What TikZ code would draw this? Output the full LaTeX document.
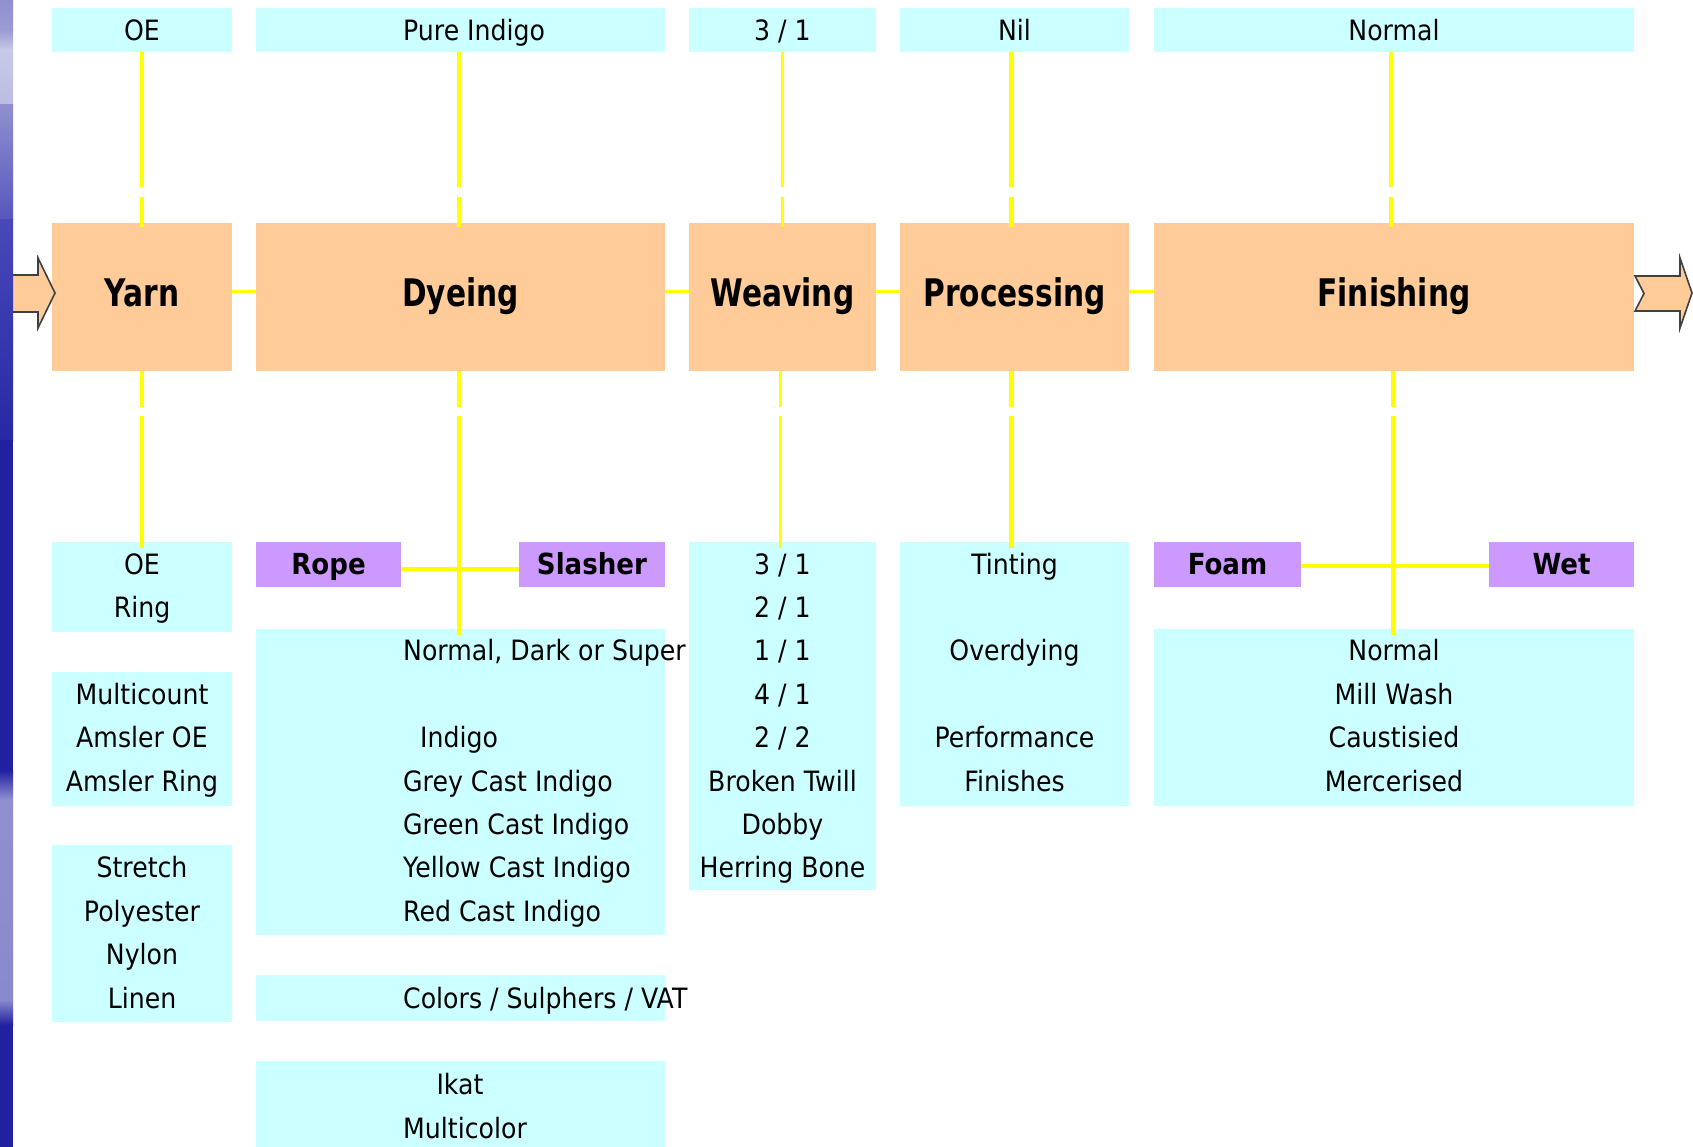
\documentclass[tikz,border=0pt]{standalone}
\usepackage{fontspec}
\setmainfont{DejaVu Sans}[FakeStretch=0.9]
\newfontfamily\mainbold{DejaVu Sans}[FakeStretch=0.78]
\definecolor{cyanbox}{HTML}{CCFFFF}
\definecolor{peach}{HTML}{FFCC99}
\definecolor{lilac}{HTML}{CC99FF}
\definecolor{ylw}{HTML}{FFFF00}
\definecolor{arrowgray}{HTML}{404040}
\definecolor{bdark}{HTML}{2020A0}
\definecolor{bmid}{HTML}{4848B8}
\definecolor{blite}{HTML}{9090D0}
\definecolor{bpale}{HTML}{C8C8E8}
\newcommand\mkbox[6]{\node[#6, minimum width={(#4-#2)*1pt}, minimum height={(#5-#3)*1pt}] (#1) at ({(#2+#4)/2},{(#3+#5)/2}) {};}
\newcommand\rowtext[5]{\node[txt,anchor=#2] (#1) at (#3,{574+43.4*(#4)}) {#5};}
\begin{document}
\begin{tikzpicture}[x=1pt,y=-1pt,
  cy/.style={rectangle, inner sep=0, outer sep=0, fill=cyanbox},
  pe/.style={rectangle, inner sep=0, outer sep=0, fill=peach},
  pu/.style={rectangle, inner sep=0, outer sep=0, fill=lilac},
  txt/.style={inner sep=0, text=black, font=\fontsize{28}{34}\selectfont},
  big/.style={inner sep=0, text=black, font=\mainbold\fontsize{38}{44}\selectfont\bfseries},
  mid/.style={inner sep=0, text=black, font=\fontsize{29}{34}\selectfont\bfseries},
  yl/.style={draw=ylw, line width=4.5pt},
  ylthin/.style={draw=ylw, line width=3pt},
  gapt/.style={dash pattern=on 135pt off 10pt on 400pt},
  gapb/.style={dash pattern=on 36pt off 9pt on 400pt},
  blockarrow/.style={fill=peach, draw=arrowgray, line width=1.6pt, line join=miter}
]
\useasboundingbox (0,0) rectangle (1693,1147);
\fill[white] (0,0) rectangle (1693,1147);

% top row
\mkbox{t1}{52}{8}{232}{52}{cy}
\mkbox{t2}{256}{8}{665}{52}{cy}
\mkbox{t3}{689}{8}{876}{52}{cy}
\mkbox{t4}{900}{8}{1129}{52}{cy}
\mkbox{t5}{1154}{8}{1634}{52}{cy}
% main row
\mkbox{m1}{52}{223}{232}{371}{pe}
\mkbox{m2}{256}{223}{665}{371}{pe}
\mkbox{m3}{689}{223}{876}{371}{pe}
\mkbox{m4}{900}{223}{1129}{371}{pe}
\mkbox{m5}{1154}{223}{1634}{371}{pe}
% lower boxes
\mkbox{b1a}{52}{542}{232}{632}{cy}
\mkbox{b1b}{52}{672}{232}{806}{cy}
\mkbox{b1c}{52}{845}{232}{1022}{cy}
\mkbox{rope}{256}{542}{401}{587}{pu}
\mkbox{slash}{519}{542}{665}{587}{pu}
\mkbox{b2a}{256}{629}{665}{935}{cy}
\mkbox{b2b}{256}{975}{665}{1021}{cy}
\mkbox{b2c}{256}{1061}{665}{1147}{cy}
\mkbox{b3}{689}{542}{876}{890}{cy}
\mkbox{b4}{900}{542}{1129}{806}{cy}
\mkbox{foam}{1154}{542}{1301}{587}{pu}
\mkbox{wet}{1489}{542}{1634}{587}{pu}
\mkbox{b5}{1154}{629}{1634}{806}{cy}

% connectors top -> main
\draw[yl,gapt,shorten >=-4pt] (t1.south) -- (m1.north);
\draw[yl,gapt,shorten >=-4pt] ([xshift=-1.5pt]t2.south) -- ([xshift=-1.5pt]m2.north);
\draw[ylthin,gapt,shorten >=-4pt] (t3.south) -- (m3.north);
\draw[yl,gapt,shorten >=-4pt] ([xshift=-3pt]t4.south) -- ([xshift=-3pt]m4.north);
\draw[yl,gapt,shorten >=-4pt] ([xshift=-3pt]t5.south) -- ([xshift=-3pt]m5.north);
% main -> lower
\draw[yl,gapb,shorten >=-6pt] (m1.south) -- (b1a.north);
\draw[yl,gapb,shorten >=-6pt] ([xshift=-1.5pt]m2.south) -- ([xshift=-1.5pt]b2a.north);
\draw[ylthin,gapb,shorten >=-6pt] ([xshift=-2.5pt]m3.south) -- ([xshift=-2.5pt]b3.north);
\draw[yl,gapb,shorten >=-6pt] ([xshift=-3pt]m4.south) -- ([xshift=-3pt]b4.north);
\draw[yl,gapb,shorten >=-6pt] ([xshift=-1pt]m5.south) -- ([xshift=-1pt]b5.north);
% main row links
\draw[ylthin] ([yshift=5pt]m1.east) -- ([yshift=5pt]m2.west);
\draw[ylthin] ([yshift=5pt]m2.east) -- ([yshift=5pt]m3.west);
\draw[ylthin] ([yshift=5pt]m3.east) -- ([yshift=5pt]m4.west);
\draw[ylthin] ([yshift=5pt]m4.east) -- ([yshift=5pt]m5.west);
% rope/slasher and foam/wet
\draw[yl] ([yshift=-4.5pt]rope.east) -- ([yshift=-4.5pt]slash.west);
\draw[yl] ([yshift=-1.5pt]foam.east) -- ([yshift=-1.5pt]wet.west);

% main labels
\node[big,anchor=base] (l1) at (142,307) {Yarn};
\node[big,anchor=base] (l2) at (460.5,307) {Dyeing};
\node[big,anchor=base] (l3) at (782.5,307) {Weaving};
\node[big,anchor=base] (l4) at (1014.5,307) {Processing};
\node[big,anchor=base] (l5) at (1394,307) {Finishing};
% purple labels
\node[mid,anchor=base] (lr) at (328.5,574) {Rope};
\node[mid,anchor=base] (ls) at (592,574) {Slasher};
\node[mid,anchor=base] (lf) at (1227.5,574) {Foam};
\node[mid,anchor=base] (lw) at (1561.5,574) {Wet};
% top labels
\node[txt,anchor=base] (a1) at (142,41) {OE};
\node[txt,anchor=base west] (a2) at (403,41) {Pure Indigo};
\node[txt,anchor=base] (a3) at (782.5,41) {3 / 1};
\node[txt,anchor=base] (a4) at (1014.5,41) {Nil};
\node[txt,anchor=base] (a5) at (1394,41) {Normal};

% column 1
\rowtext{c1a}{base}{142}{0}{OE}
\rowtext{c1b}{base}{142}{1}{Ring}
\rowtext{c1c}{base}{142}{3}{Multicount}
\rowtext{c1d}{base}{142}{4}{Amsler OE}
\rowtext{c1e}{base}{142}{5}{Amsler Ring}
\rowtext{c1f}{base}{142}{7}{Stretch}
\rowtext{c1g}{base}{142}{8}{Polyester}
\rowtext{c1h}{base}{142}{9}{Nylon}
\rowtext{c1i}{base}{142}{10}{Linen}
% column 2
\rowtext{c2a}{base west}{403}{2}{Normal, Dark or Super}
\rowtext{c2b}{base west}{420}{4}{Indigo}
\rowtext{c2c}{base west}{403}{5}{Grey Cast Indigo}
\rowtext{c2d}{base west}{403}{6}{Green Cast Indigo}
\rowtext{c2e}{base west}{403}{7}{Yellow Cast Indigo}
\rowtext{c2f}{base west}{403}{8}{Red Cast Indigo}
\rowtext{c2g}{base west}{403}{10}{Colors / Sulphers / VAT}
\rowtext{c2h}{base}{460}{12}{Ikat}
\rowtext{c2i}{base west}{403}{13}{Multicolor}
% column 3
\rowtext{c3a}{base}{782.5}{0}{3 / 1}
\rowtext{c3b}{base}{782.5}{1}{2 / 1}
\rowtext{c3c}{base}{782.5}{2}{1 / 1}
\rowtext{c3d}{base}{782.5}{3}{4 / 1}
\rowtext{c3e}{base}{782.5}{4}{2 / 2}
\rowtext{c3f}{base}{782.5}{5}{Broken Twill}
\rowtext{c3g}{base}{782.5}{6}{Dobby}
\rowtext{c3h}{base}{782.5}{7}{Herring Bone}
% column 4
\rowtext{c4a}{base}{1014.5}{0}{Tinting}
\rowtext{c4b}{base}{1014.5}{2}{Overdying}
\rowtext{c4c}{base}{1014.5}{4}{Performance}
\rowtext{c4d}{base}{1014.5}{5}{Finishes}
% column 5
\rowtext{c5a}{base}{1394}{2}{Normal}
\rowtext{c5b}{base}{1394}{3}{Mill Wash}
\rowtext{c5c}{base}{1394}{4}{Caustisied}
\rowtext{c5d}{base}{1394}{5}{Mercerised}

% block arrows
\draw[blockarrow] (5,275) -- (38,275) -- (38,258) -- (55,293) -- (38,328) -- (38,312) -- (5,312) -- cycle;
\draw[blockarrow] (1635,276) -- (1680,276) -- (1680,258) -- (1692,293) -- (1680,328) -- (1680,311) -- (1635,311) -- (1644,293.5) -- cycle;

% left blue bar
\shade[top color=blite, bottom color=blite!90] (0,0) rectangle (13,30);
\shade[top color=blite!90, bottom color=bpale] (0,30) rectangle (13,50);
\shade[top color=bpale, bottom color=bpale!80!blite] (0,50) rectangle (13,105);
\shade[top color=blite, bottom color=bmid!80!blite] (0,105) rectangle (13,220);
\shade[top color=bmid, bottom color=bdark!80!bmid] (0,220) rectangle (13,440);
\fill[bdark] (0,440) rectangle (13,770);
\shade[top color=bdark, bottom color=blite] (0,770) rectangle (13,800);
\shade[top color=blite, bottom color=blite!90!bmid] (0,800) rectangle (13,1000);
\shade[top color=blite!90!bmid, bottom color=bdark] (0,1000) rectangle (13,1025);
\fill[bdark] (0,1025) rectangle (13,1147);
\end{tikzpicture}
\end{document}
